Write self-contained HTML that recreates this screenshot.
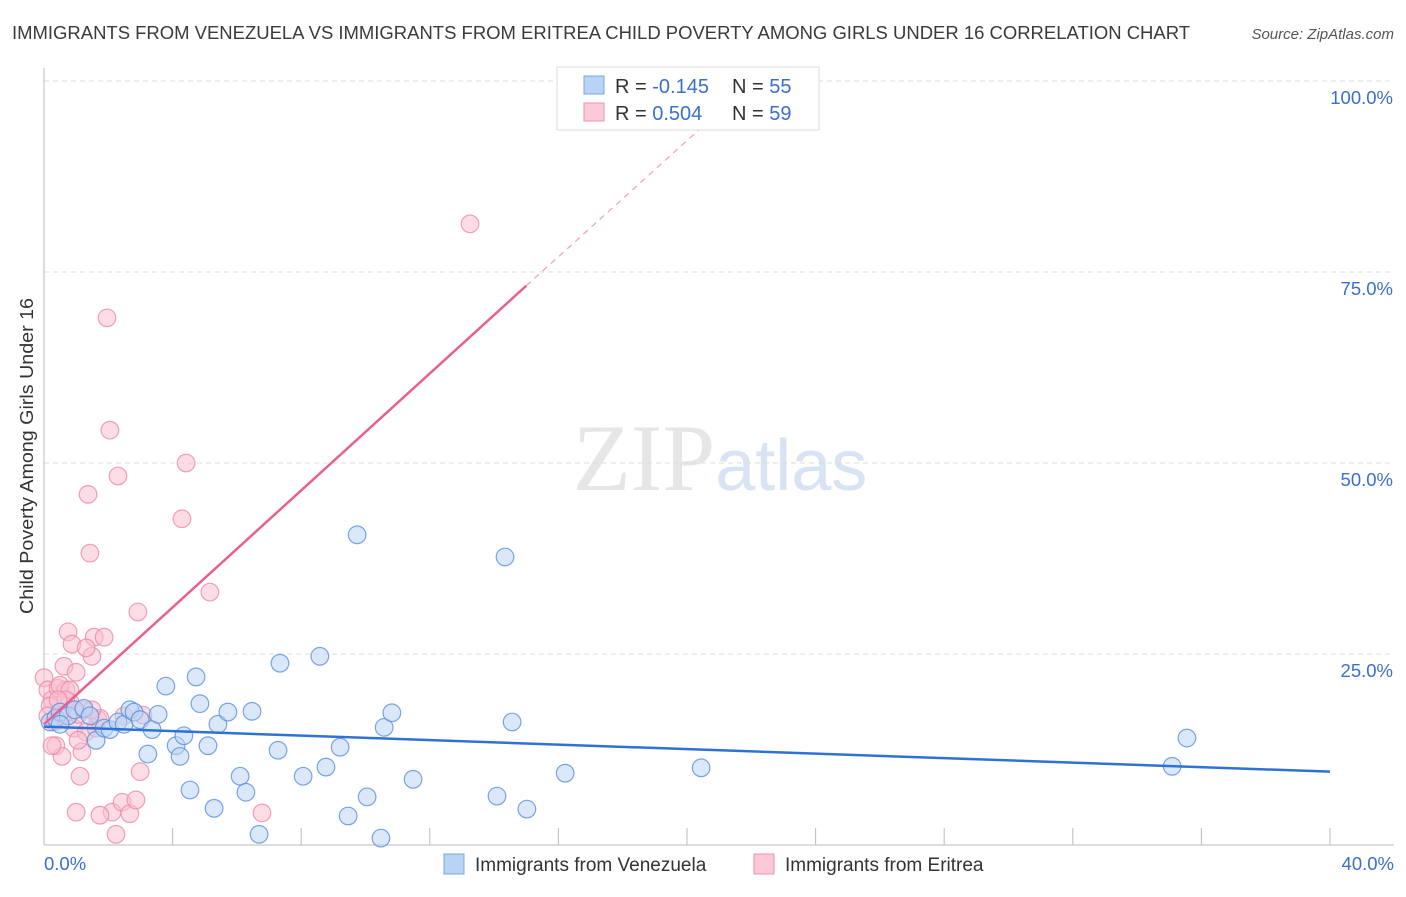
<!DOCTYPE html>
<html><head><meta charset="utf-8"><style>
body{margin:0;background:#fff;font-family:"Liberation Sans",sans-serif}
</style></head><body>
<svg width="1406" height="892" xmlns="http://www.w3.org/2000/svg" font-family="Liberation Sans, sans-serif">
<text x="12" y="39" font-size="18" fill="#3a3a3a" textLength="1178" lengthAdjust="spacingAndGlyphs">IMMIGRANTS FROM VENEZUELA VS IMMIGRANTS FROM ERITREA CHILD POVERTY AMONG GIRLS UNDER 16 CORRELATION CHART</text>
<text x="1394" y="39" font-size="15" fill="#555" text-anchor="end" font-style="italic">Source: ZipAtlas.com</text>
<text x="720" y="490" font-size="95" text-anchor="middle" fill="#e6e6e6" font-family="Liberation Serif, serif">ZIP<tspan fill="#d8e3f3" font-family="Liberation Sans, sans-serif" font-size="72">atlas</tspan></text>
<g id="grid"></g><g id="axes"></g><g id="pts"></g><g id="trend"></g>
<text transform="translate(33,456) rotate(-90)" font-size="18" fill="#333" text-anchor="middle" textLength="316" lengthAdjust="spacingAndGlyphs">Child Poverty Among Girls Under 16</text>
<g>
<rect x="557" y="67" width="262" height="63" fill="#fff" stroke="#ddd"/>
<rect x="584" y="76" width="20" height="18" fill="#b9d3f5" stroke="#7aa6e0"/>
<rect x="584" y="103" width="20" height="18" fill="#fcc9d7" stroke="#f08fae"/>
<text x="615" y="93" font-size="20" fill="#333">R = <tspan fill="#3a6fd0">-0.145</tspan><tspan x="732">N = </tspan><tspan fill="#3a6fd0">55</tspan></text>
<text x="615" y="120" font-size="20" fill="#333">R = <tspan fill="#3a6fd0"> 0.504</tspan><tspan x="732">N = </tspan><tspan fill="#3a6fd0">59</tspan></text>
</g>
<g>
<rect x="444" y="854" width="20" height="20" fill="#b9d3f5" stroke="#7aa6e0"/>
<text x="475" y="871" font-size="19" fill="#333">Immigrants from Venezuela</text>
<rect x="754" y="854" width="20" height="20" fill="#fcc9d7" stroke="#f08fae"/>
<text x="785" y="871" font-size="19" fill="#333">Immigrants from Eritrea</text>
</g>
</svg>
<script>
const yTicks=[25,50,75,100];
const yTickLabels=["25.0%","50.0%","75.0%","100.0%"];
const xTickLabels=["0.0%","40.0%"];
const bluePx=[[50,722],[56,718],[60,712],[68,716],[75,710],[84,708],[90,716],[96,740],[104,728],[110,730],[118,722],[124,724],[130,710],[134,712],[140,720],[152,730],[148,754],[158,714],[166,686],[176,746],[180,756],[184,736],[190,790],[196,677],[200,704],[208,746],[214,808],[218,724],[228,712],[240,776],[246,792],[252,711],[259,834],[278,750],[280,663],[303,776],[320,656],[326,767],[340,747],[357,535],[348,816],[367,797],[381,838],[384,727],[392,713],[413,779],[497,796],[505,557],[512,722],[527,809],[565,773],[701,768],[1172,766],[1187,738],[60,724]];
const pinkPx=[[44,678],[48,690],[52,700],[54,722],[56,746],[58,688],[60,714],[62,756],[64,666],[66,690],[68,632],[70,702],[72,644],[74,728],[76,672],[78,714],[80,776],[82,752],[84,710],[86,732],[88,494],[90,553],[92,656],[94,637],[96,728],[98,720],[100,718],[104,637],[107,318],[110,430],[112,812],[116,834],[118,476],[122,802],[124,716],[130,814],[136,800],[138,612],[140,772],[143,715],[182,519],[186,463],[210,592],[262,813],[470,224],[76,812],[100,815],[50,706],[60,685],[70,690],[86,648],[66,700],[52,746],[78,740],[56,718],[62,716],[92,710],[48,716],[58,700]];
const blueX=bluePx.map(p=>+((p[0]-44)/32.15).toFixed(2));
const blueY=bluePx.map(p=>+((845-p[1])/7.64).toFixed(1));
const pinkX=pinkPx.map(p=>+((p[0]-44)/32.15).toFixed(2));
const pinkY=pinkPx.map(p=>+((845-p[1])/7.64).toFixed(1));
const blueTrend=[[0,15.5],[40,9.6]];
const pinkTrend=[[0,15.8],[15,73.2],[21,96]];
const X=v=>44+v*32.15, Y=v=>845-v*7.64;
const NS="http://www.w3.org/2000/svg";
function mk(t,a,p){const e=document.createElementNS(NS,t);for(const k in a)e.setAttribute(k,a[k]);p.appendChild(e);return e;}
const grid=document.getElementById('grid'),axes=document.getElementById('axes'),pts=document.getElementById('pts'),tr=document.getElementById('trend');
yTicks.forEach((v,i)=>{
 const l=mk('line',{x1:44,x2:1394,y1:Y(v),y2:Y(v),stroke:'#ddd','stroke-dasharray':'5,4'},grid);
 
 
 const t=mk('text',{x:1393,y:Y(v)+23,'font-size':18.5,fill:'#3a6fd0','text-anchor':'end'},axes);t.textContent=yTickLabels[i];
 
 
});
const ax=mk('line',{x1:44,x2:1394,y1:845,y2:845,stroke:'#bbb'},axes);


const ay=mk('line',{x1:44,x2:44,y1:68,y2:845,stroke:'#bbb'},axes);


for(let i=1;i<=10;i++){const t=mk('line',{x1:X(i*4),x2:X(i*4),y1:828,y2:845,stroke:'#bbb'},axes);
 
 }
[[0,'start',44],[40,'end',1394]].forEach((d,i)=>{const t=mk('text',{x:d[2],y:870,'font-size':18.5,fill:'#3a6fd0','text-anchor':d[1]},axes);t.textContent=xTickLabels[i];
 
 });
function dots(xs,ys,f,s,n){xs.forEach((x,i)=>{const c=mk('circle',{cx:X(x),cy:Y(ys[i]),r:8.8,fill:f,'fill-opacity':0.55,stroke:s,'stroke-opacity':0.8,'stroke-width':1.2},pts);
 
 });}
dots(pinkX,pinkY,'#f9bfd0','#ec8aa8','eritrea-point');
dots(blueX,blueY,'#bcd5f5','#5a8fdc','venezuela-point');
const bl=mk('line',{x1:X(blueTrend[0][0]),y1:Y(blueTrend[0][1]),x2:X(blueTrend[1][0]),y2:Y(blueTrend[1][1]),stroke:'#2f72d6','stroke-width':2.5},tr);


const pl=mk('line',{x1:X(pinkTrend[0][0]),y1:Y(pinkTrend[0][1]),x2:X(pinkTrend[1][0]),y2:Y(pinkTrend[1][1]),stroke:'#e8608e','stroke-width':2.5},tr);


const pd=mk('line',{x1:X(pinkTrend[1][0]),y1:Y(pinkTrend[1][1]),x2:X(pinkTrend[2][0]),y2:Y(pinkTrend[2][1]),stroke:'#f0a0bb','stroke-width':1.2,'stroke-dasharray':'6,5'},tr);


</script>
</body></html>
